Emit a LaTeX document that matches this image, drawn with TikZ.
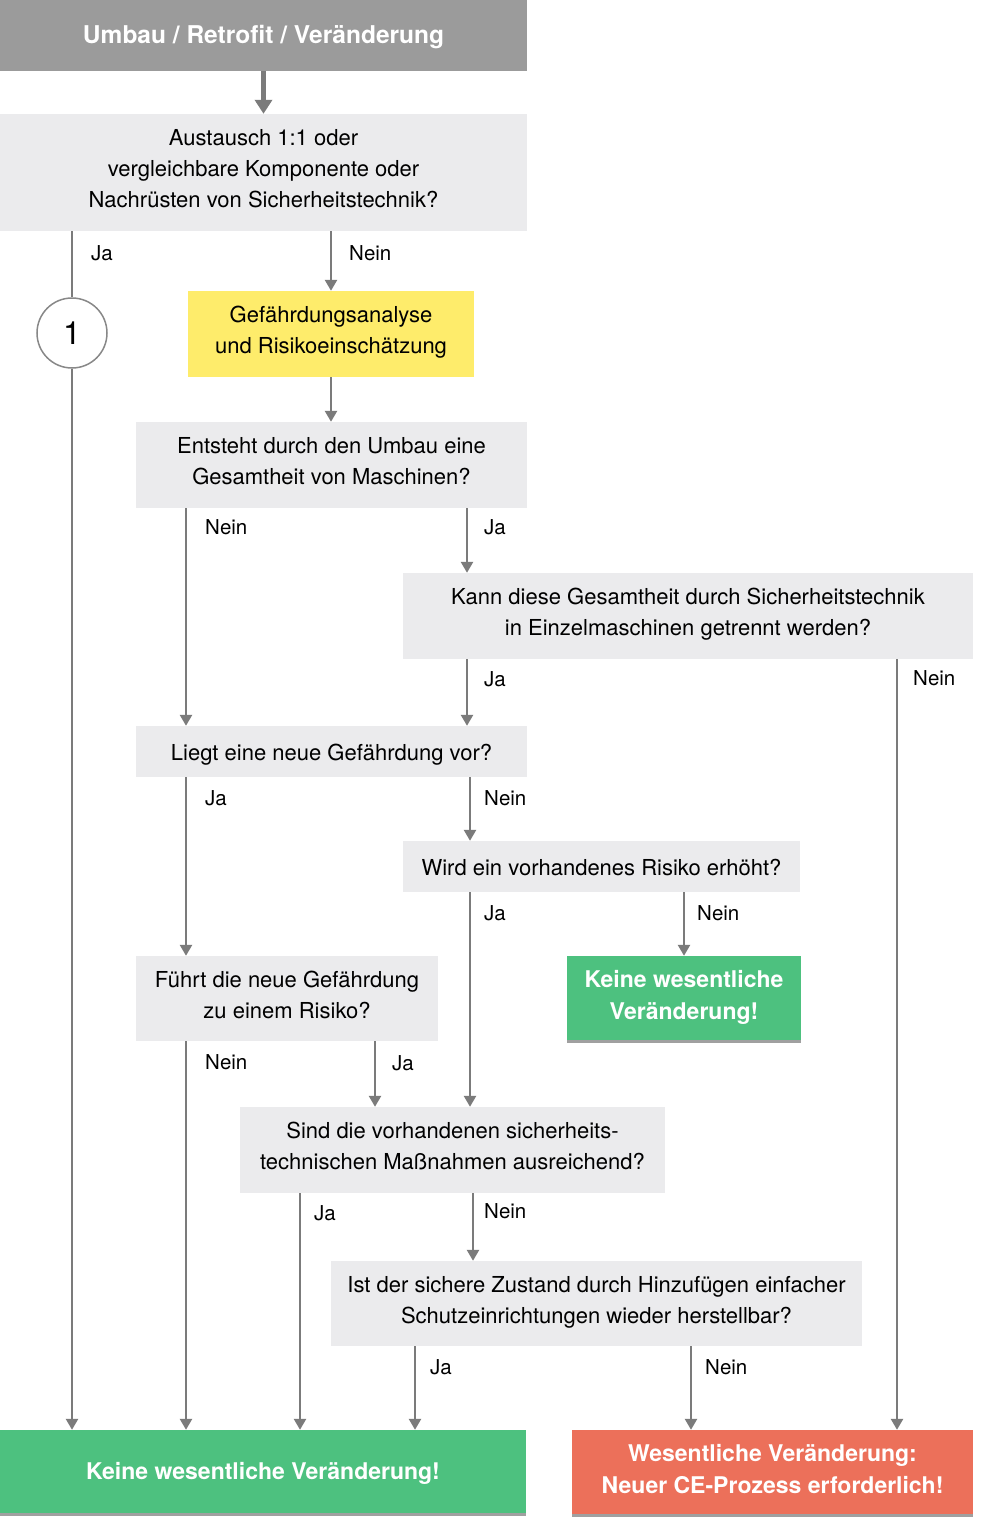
\documentclass[tikz,border=0pt]{standalone}
\usepackage{fontspec}
\setmainfont{TeX Gyre Heros}
\usetikzlibrary{arrows.meta,shadows}
\definecolor{hdr}{HTML}{9B9B9B}
\definecolor{qbox}{HTML}{EBEBED}
\definecolor{ybox}{HTML}{FEEC6B}
\definecolor{gbox}{HTML}{4DC17F}
\definecolor{rbox}{HTML}{EC705A}
\definecolor{lin}{HTML}{7B7B7B}
\definecolor{shd}{HTML}{A0A0A0}
\newcommand\vstrut[2]{\rule[-#2]{0pt}{\dimexpr#1+#2\relax}}
\begin{document}
\begin{tikzpicture}[x=1pt,y=-1pt,
  box/.style={fill=qbox, inner sep=0pt, align=center, text=black,
    font=\fontsize{22}{31}\selectfont,
    execute at begin node=\vstrut{24.6pt}{7.6pt},
    execute at end node=\vstrut{24.6pt}{7.6pt}},
  ybx/.style={box, fill=ybox},
  hbx/.style={fill=hdr, inner sep=0pt, align=center, text=white,
    font=\fontsize{24.5}{30}\bfseries,
    execute at begin node=\vstrut{23pt}{6pt},
    execute at end node=\vstrut{23pt}{6pt}},
  res/.style={inner sep=0pt, align=center, text=white,
    font=\fontsize{23}{32}\bfseries,
    execute at begin node=\vstrut{23.6pt}{7pt},
    execute at end node=\vstrut{23.6pt}{7pt},
    drop shadow={shadow xshift=0pt, shadow yshift=-3pt, fill=shd, opacity=1}},
  grn/.style={res, fill=gbox},
  red/.style={res, fill=rbox},
  circ/.style={circle, draw=lin!90, line width=1.5pt, fill=white,
    minimum size=70, inner sep=0pt, font=\fontsize{32}{32}\selectfont},
  ln/.style={draw=lin, line width=2.5pt},
  arr/.style={ln, -{Triangle[width=12pt,length=11pt]}},
  harr/.style={draw=lin, line width=5pt, -{Triangle[width=17pt,length=14pt]}},
  lab/.style={anchor=base west, inner sep=0pt, font=\fontsize{20.5}{24}\selectfont}
]
\useasboundingbox (0,0) rectangle (995,1517);

% nodes
\node[hbx, minimum width=527, minimum height=71] (h) at (263.5,35.5) {Umbau / Retrofit / Veränderung};
\node[box, minimum width=527, minimum height=117] (q1) at (263.5,172.5)
  {Austausch 1:1 oder\\vergleichbare Komponente oder\\Nachrüsten von Sicherheitstechnik?};
\node[ybx, minimum width=286, minimum height=86] (y1) at (331,334)
  {Gefährdungsanalyse\\und Risikoeinschätzung};
\node[circ] (c1) at (72,333) {1};
\node[box, minimum width=391, minimum height=86] (q2) at (331.5,465)
  {Entsteht durch den Umbau eine\\Gesamtheit von Maschinen?};
\node[box, minimum width=570, minimum height=86] (q3) at (688,616)
  {Kann diese Gesamtheit durch Sicherheitstechnik\\in Einzelmaschinen getrennt werden?};
\node[box, minimum width=391, minimum height=51] (q4) at (331.5,751.5)
  {Liegt eine neue Gefährdung vor?};
\node[box, minimum width=397, minimum height=51] (q5) at (601.5,866.5)
  {Wird ein vorhandenes Risiko erhöht?};
\node[grn, minimum width=234, minimum height=84] (g1) at (684,998)
  {Keine wesentliche\\Veränderung!};
\node[box, minimum width=302, minimum height=85] (q6) at (287,998.5)
  {Führt die neue Gefährdung\\zu einem Risiko?};
\node[box, minimum width=425, minimum height=86] (q7) at (452.5,1150)
  {Sind die vorhandenen sicherheits-\\technischen Maßnahmen ausreichend?};
\node[box, minimum width=531, minimum height=85] (q8) at (596.5,1303.5)
  {Ist der sichere Zustand durch Hinzufügen einfacher\\Schutzeinrichtungen wieder herstellbar?};
\node[grn, minimum width=526, minimum height=83] (g2) at (263,1471.5)
  {Keine wesentliche Veränderung!};
\node[red, minimum width=401, minimum height=84] (r1) at (772.5,1472)
  {Wesentliche Veränderung:\\Neuer CE-Prozess erforderlich!};

% x positions of connectors
\coordinate (xa) at (186,0);
\coordinate (xb) at (467,0);
\coordinate (xc) at (897,0);
\coordinate (xd) at (470,0);
\coordinate (xe) at (375,0);
\coordinate (xf) at (300,0);
\coordinate (xg) at (473,0);
\coordinate (xh) at (415,0);
\coordinate (xi) at (691,0);

% connectors
\draw[harr] (h.south -| q1) -- (q1.north);
\draw[ln] (q1.south -| c1) -- (c1.north);
\draw[arr] (c1.south) -- (g2.north -| c1);
\draw[arr] (q1.south -| y1) -- (y1.north);
\draw[arr] (y1.south) -- (q2.north -| y1);
\draw[arr] (q2.south -| xa) -- (q4.north -| xa);
\draw[arr] (q2.south -| xb) -- (q3.north -| xb);
\draw[arr] (q3.south -| xb) -- (q4.north -| xb);
\draw[arr] (q3.south -| xc) -- (r1.north -| xc);
\draw[arr] (q4.south -| xa) -- (q6.north -| xa);
\draw[arr] (q4.south -| xd) -- (q5.north -| xd);
\draw[arr] (q5.south -| xd) -- (q7.north -| xd);
\draw[arr] (q5.south -| g1) -- (g1.north);
\draw[arr] (q6.south -| xa) -- (g2.north -| xa);
\draw[arr] (q6.south -| xe) -- (q7.north -| xe);
\draw[arr] (q7.south -| xf) -- (g2.north -| xf);
\draw[arr] (q7.south -| xg) -- (q8.north -| xg);
\draw[arr] (q8.south -| xh) -- (g2.north -| xh);
\draw[arr] (q8.south -| xi) -- (r1.north -| xi);

% labels
\node[lab] (l1) at (91,260) {Ja};
\node[lab] (l2) at (349,260) {Nein};
\node[lab] (l3) at (205,534) {Nein};
\node[lab] (l4) at (484,534) {Ja};
\node[lab] (l5) at (484,686) {Ja};
\node[lab] (l6) at (913,685) {Nein};
\node[lab] (l7) at (205,805) {Ja};
\node[lab] (l8) at (484,805) {Nein};
\node[lab] (l9) at (484,920) {Ja};
\node[lab] (l10) at (697,920) {Nein};
\node[lab] (l11) at (205,1069) {Nein};
\node[lab] (l12) at (392,1070) {Ja};
\node[lab] (l13) at (314,1220) {Ja};
\node[lab] (l14) at (484,1218) {Nein};
\node[lab] (l15) at (430,1374) {Ja};
\node[lab] (l16) at (705,1374) {Nein};
\end{tikzpicture}
\end{document}
